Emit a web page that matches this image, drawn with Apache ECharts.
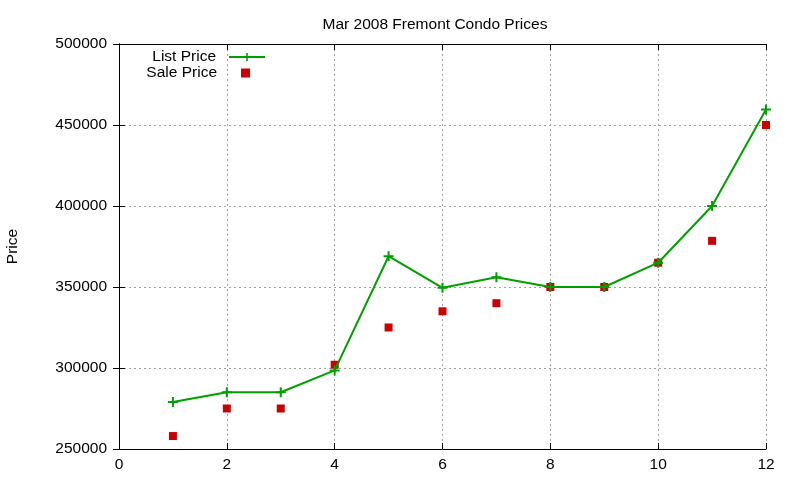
<!DOCTYPE html>
<html>
<head>
<meta charset="utf-8">
<script src="https://cdn.jsdelivr.net/npm/echarts@6/dist/echarts.min.js"></script>
<style>
  html, body { margin: 0; padding: 0; background: #fff; }
  #chart { width: 800px; height: 480px; }
</style>
</head>
<body>
<div id="chart"></div>
<script>
// 月份序号
var months = [1, 2, 3, 4, 5, 6, 7, 8, 9, 10, 11, 12]
// 挂牌价
var listPrice = [279000, 285000, 285000, 298500, 369000, 349500, 356000, 350000, 350000, 365000, 400000, 459500]
// 成交价
var salePrice = [258000, 275000, 275000, 302000, 325000, 335000, 340000, 350000, 350000, 365000, 378500, 450000]

var font = 'Liberation Sans, Arial, sans-serif'
var fs = 15.5
var plus = 'path://M4,0H6V4H10V6H6V10H4V6H0V4H4Z'

var myChart = echarts.init(document.getElementById('chart'))
var gridLine = { show: true, lineStyle: { color: '#a0a0a0', type: [2, 3], width: 1 } }
var blackLine = { show: true, lineStyle: { color: '#000', width: 1 } }
var inTick = { show: true, inside: true, length: 6, lineStyle: { color: '#000' } }

var option = {
  animation: false,
  backgroundColor: '#fff',
  title: {
    text: 'Mar 2008 Fremont Condo Prices',
    left: 430, top: 12, textAlign: 'center',
    textStyle: { fontFamily: font, fontSize: fs, fontWeight: 'normal', color: '#000' }
  },
  legend: [
    {
      data: ['List Price'], orient: 'vertical', align: 'right', padding: 0,
      right: 534, top: 49, itemWidth: 36, itemHeight: 10,
      textStyle: { fontFamily: font, fontSize: fs, color: '#000', padding: [0, 8, 0, 0] }
    },
    {
      data: ['Sale Price'], orient: 'vertical', align: 'right', padding: 0,
      right: 550, top: 65, itemWidth: 9, itemHeight: 9,
      textStyle: { fontFamily: font, fontSize: fs, color: '#000', padding: [0, 19, 0, 0] }
    }
  ],
  grid: { left: 119, right: 34, top: 44, bottom: 31, containLabel: false, outerBoundsMode: 'none' },
  xAxis: [
    {
      type: 'value', min: 0, max: 12, interval: 2,
      axisLine: blackLine, axisTick: inTick,
      axisLabel: { fontFamily: font, fontSize: fs, color: '#000', margin: 8 },
      splitLine: gridLine
    },
    {
      type: 'value', position: 'top', min: 0, max: 12, interval: 2,
      axisLine: blackLine, axisTick: inTick,
      axisLabel: { show: false }, splitLine: { show: false }
    }
  ],
  yAxis: [
    {
      type: 'value', min: 250000, max: 500000, interval: 50000,
      name: 'Price', nameLocation: 'middle', nameGap: 98, nameRotate: 90,
      nameTextStyle: { fontFamily: font, fontSize: fs, color: '#000' },
      axisLine: blackLine, axisTick: inTick,
      axisLabel: { fontFamily: font, fontSize: fs, color: '#000', margin: 12,
        formatter: function (v) { return String(v) } },
      splitLine: gridLine
    },
    {
      type: 'value', position: 'right', min: 250000, max: 500000, interval: 50000,
      axisLine: blackLine, axisTick: inTick,
      axisLabel: { show: false }, splitLine: { show: false }
    }
  ],
  series: [
    {
      name: 'List Price', type: 'line',
      data: months.map(function (m, i) { return [m, listPrice[i]] }),
      symbol: plus, symbolSize: 10, showAllSymbol: true,
      lineStyle: { color: '#00a000', width: 2 },
      itemStyle: { color: '#00a000' }
    },
    {
      name: 'Sale Price', type: 'scatter',
      data: months.map(function (m, i) { return [m, salePrice[i]] }),
      symbol: 'rect', symbolSize: 8,
      itemStyle: { color: '#cc0000', opacity: 1 }
    }
  ]
}
myChart.setOption(option)
</script>
</body>
</html>
